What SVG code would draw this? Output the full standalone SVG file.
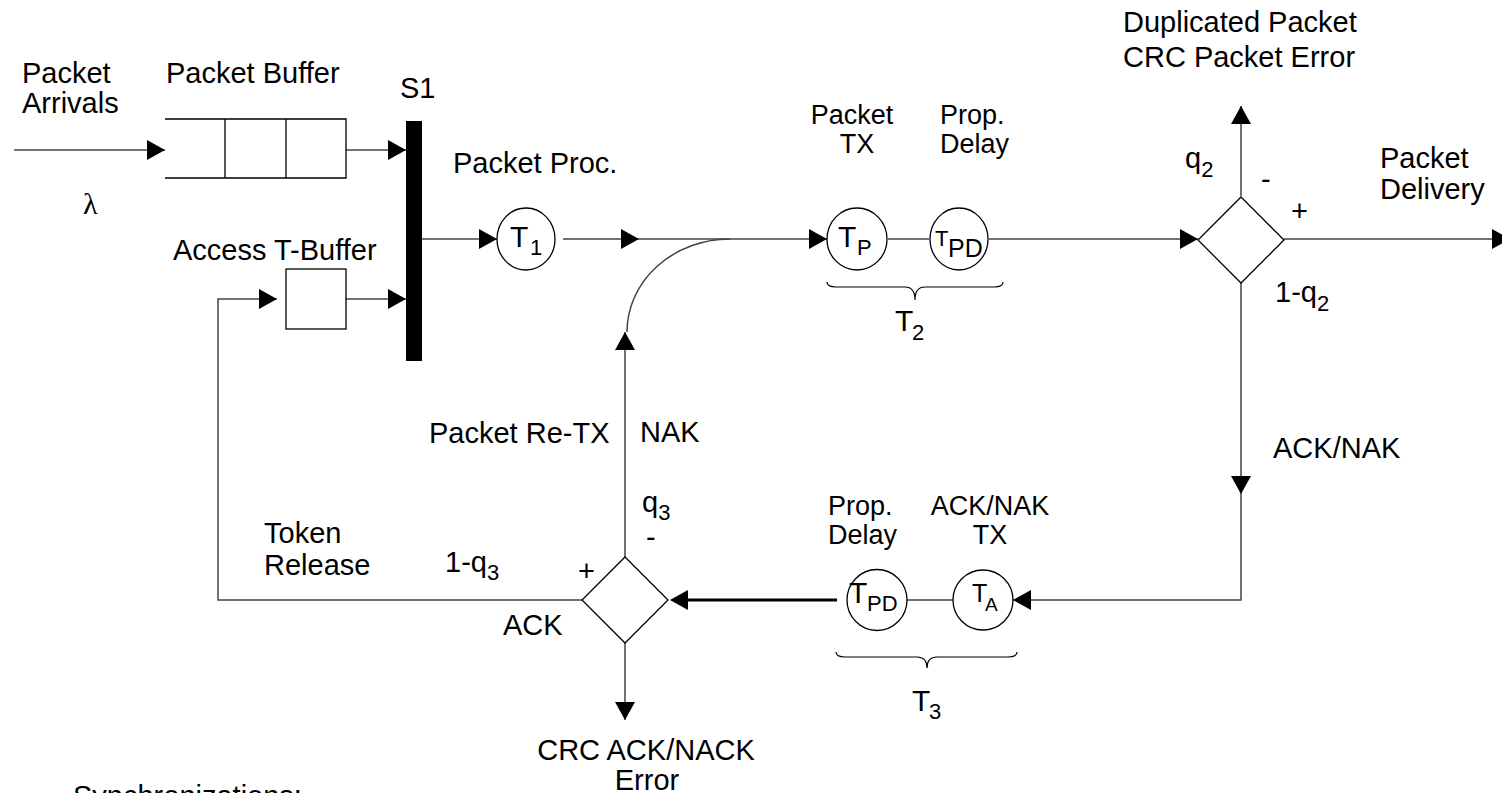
<svg xmlns="http://www.w3.org/2000/svg" width="1502" height="793" viewBox="0 0 1502 793">
<style>
text{font-family:"Liberation Sans",Arial,sans-serif;font-size:29px;fill:#000}
.sub{font-size:22px}
.nar{font-size:27px}
.ln{fill:none;stroke:#444;stroke-width:1.5}
.thick{fill:none;stroke:#000;stroke-width:3}
.shape{fill:#fff;stroke:#000;stroke-width:1.3}
.box{fill:none;stroke:#000;stroke-width:1.3}
.brace{fill:none;stroke:#000;stroke-width:1.2}
</style>
<defs>
<marker id="ah" markerUnits="userSpaceOnUse" markerWidth="18" markerHeight="20" refX="18" refY="10" orient="auto">
<path d="M0,0 L18,10 L0,20 z" fill="#000"/>
</marker>
</defs>
<rect width="1502" height="793" fill="#fff"/>

<g id="connectors">
<path class="ln" d="M14,150 H165" marker-end="url(#ah)"/>
<path class="ln" d="M346,150 H406" marker-end="url(#ah)"/>
<path class="ln" d="M346,299 H406" marker-end="url(#ah)"/>
<path class="ln" d="M422,239 H497" marker-end="url(#ah)"/>
<path class="ln" d="M563,239 H639" marker-end="url(#ah)"/>
<path class="ln" d="M639,239 H827" marker-end="url(#ah)"/>
<path class="ln" d="M627,332 A103,93 0 0 1 730,239" stroke="#000"/>
<path class="ln" d="M888,239 H929"/>
<path class="ln" d="M989,239 H1198" marker-end="url(#ah)"/>
<path class="ln" d="M1241,196 V106" marker-end="url(#ah)"/>
<path class="ln" d="M1284,239 H1510" marker-end="url(#ah)"/>
<path class="ln" d="M1241,283 V494" marker-end="url(#ah)"/>
<path class="ln" d="M1241,494 V600 H1013" marker-end="url(#ah)"/>
<path class="ln" d="M953,600 H907"/>
<path class="thick" d="M837,600 H688"/>
<path d="M688,590 L670,600 L688,610 z" fill="#000"/>
<path class="ln" d="M582,600 H218 V299 H277" marker-end="url(#ah)"/>
<path class="ln" d="M625,557 V332" marker-end="url(#ah)"/>
<path class="ln" d="M625,643 V720" marker-end="url(#ah)"/>
</g>

<g id="arrivals">
<text x="22" y="83">Packet</text>
<text x="22" y="113">Arrivals</text>
<text x="83" y="214" style="font-family:'Liberation Serif',serif;font-size:30px">λ</text>
</g>

<g id="packet-buffer">
<path class="box" d="M165,119 H346 V178 H165 M225,119 V178 M286,119 V178"/>
<text x="166" y="83">Packet Buffer</text>
</g>

<g id="access-buffer">
<rect class="box" x="286" y="269" width="60" height="60"/>
<text x="173" y="260">Access T-Buffer</text>
</g>

<g id="s1">
<rect x="406" y="121" width="16" height="240" fill="#000"/>
<text x="400" y="98">S1</text>
</g>

<g id="t1">
<ellipse class="shape" cx="526" cy="239" rx="29" ry="31"/>
<text x="510" y="247" style="font-size:30px">T</text><text class="sub" x="530" y="255">1</text>
<text x="453" y="173">Packet Proc.</text>
</g>

<g id="tp">
<ellipse class="shape" cx="857" cy="239" rx="30" ry="31"/>
<text x="838" y="247" style="font-size:30px">T</text><text class="sub" x="857" y="255">P</text>
<text class="nar" x="852" y="124" text-anchor="middle">Packet</text>
<text class="nar" x="857" y="153" text-anchor="middle">TX</text>
</g>

<g id="tpd-top">
<ellipse class="shape" cx="959" cy="239" rx="29" ry="31"/>
<text x="935" y="246" style="font-size:22px">T</text><text x="948" y="257" style="font-size:25px">PD</text>
<text class="nar" x="940" y="124">Prop.</text>
<text class="nar" x="940" y="153">Delay</text>
</g>

<g id="t2-brace">
<path class="brace" d="M827,282 Q827,287 836,287 H905 Q915,287 915,300 Q915,287 925,287 H994 Q1003,287 1003,282"/>
<text x="895" y="331" style="font-size:30px">T</text><text class="sub" x="912" y="340">2</text>
</g>

<g id="decision-packet">
<polygon class="shape" points="1241,197 1284,240 1241,283 1198,240"/>
<text x="1123" y="32">Duplicated Packet</text>
<text x="1123" y="67">CRC Packet Error</text>
<text x="1185" y="168">q<tspan class="sub" dy="9">2</tspan></text>
<text x="1261" y="189">-</text>
<text x="1291" y="221">+</text>
<text x="1380" y="168">Packet</text>
<text x="1380" y="199">Delivery</text>
<text x="1275" y="302">1-q<tspan class="sub" dy="9">2</tspan></text>
<text x="1273" y="458">ACK/NAK</text>
</g>

<g id="ta">
<ellipse class="shape" cx="983" cy="600" rx="30" ry="30"/>
<text x="972" y="602" style="font-size:25px">T</text><text x="985" y="611" style="font-size:19px">A</text>
<text class="nar" x="990" y="515" text-anchor="middle">ACK/NAK</text>
<text class="nar" x="990" y="544" text-anchor="middle">TX</text>
</g>

<g id="tpd-bottom">
<ellipse class="shape" cx="877" cy="600" rx="30" ry="30.5"/>
<text x="849" y="603" style="font-size:30px">T</text><text class="sub" x="867" y="611">PD</text>
<text class="nar" x="828" y="515">Prop.</text>
<text class="nar" x="828" y="544">Delay</text>
</g>

<g id="t3-brace">
<path class="brace" d="M836,652 Q836,657 845,657 H917 Q927,657 927,668 Q927,657 937,657 H1008 Q1017,657 1017,652"/>
<text x="912" y="711" style="font-size:30px">T</text><text class="sub" x="929" y="719">3</text>
</g>

<g id="decision-ack">
<polygon class="shape" points="625,557 668,600 625,643 582,600"/>
<text x="429" y="443">Packet Re-TX</text>
<text x="640" y="442">NAK</text>
<text x="642" y="512">q<tspan class="sub" dy="8">3</tspan></text>
<text x="646" y="547">-</text>
<text x="578" y="581">+</text>
<text x="445" y="572">1-q<tspan class="sub" dy="8">3</tspan></text>
<text x="503" y="635">ACK</text>
<text x="264" y="543">Token</text>
<text x="264" y="575">Release</text>
<text x="646" y="760" text-anchor="middle">CRC ACK/NACK</text>
<text x="647" y="790" text-anchor="middle">Error</text>
</g>

<text x="73" y="806">Synchronizations:</text>
</svg>
